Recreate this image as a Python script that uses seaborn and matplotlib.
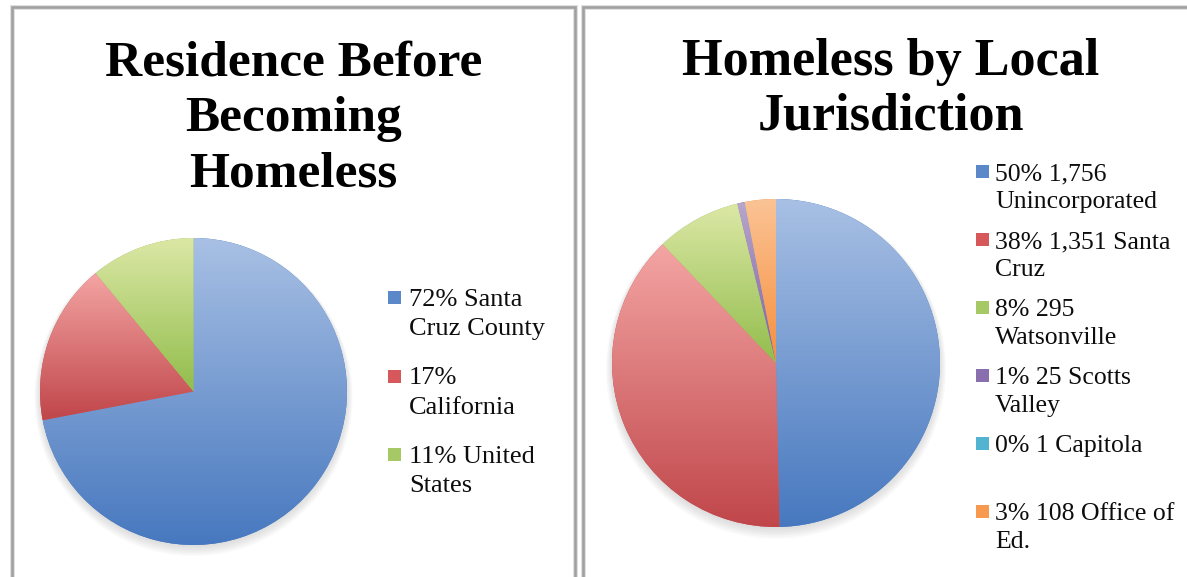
import numpy as np
import matplotlib
matplotlib.use("Agg")
import matplotlib.pyplot as plt
from matplotlib.patches import Rectangle, Circle
import seaborn as sns

# ---- data ----------------------------------------------------------------
residence_title = ["Residence Before", "Becoming", "Homeless"]
residence_labels = ["72% Santa\nCruz County", "17%\nCalifornia", "11% United\nStates"]
residence_share = [72, 17, 11]

jurisdiction_title = ["Homeless by Local", "Jurisdiction"]
jurisdiction_labels = ["50% 1,756\nUnincorporated", "38% 1,351 Santa\nCruz",
                       "8% 295\nWatsonville", "1% 25 Scotts\nValley",
                       "0% 1 Capitola\n ", "3% 108 Office of\nEd."]
jurisdiction_counts = [1756, 1351, 295, 25, 1, 108]

# ---- styling -------------------------------------------------------------
top_tint = ["#a8c0e4", "#f4a5a4", "#dce8a6", "#b8a6cc", "#9fd6e6", "#fbc395"]
base_tone = ["#4778bf", "#c0464a", "#92bd4c", "#7d5fa3", "#45a8c4", "#f68f3d"]
swatch = ["#5a88c8", "#d6585a", "#a6c865", "#8a6fae", "#52b4d0", "#f79a50"]

sns.set_theme(style="white")
plt.rcParams["font.family"] = ["Liberation Serif", "DejaVu Serif"]

W, H = 1187, 577
fig = plt.figure(figsize=(W / 100, H / 100), dpi=100)
fig.patch.set_facecolor("white")


def fx(px):
    return px / W


def fy(py):
    return 1 - py / H


def panel_frame(x0, x1, y_top):
    for lw, col in [(5.0, "#e0e0e0"), (2.6, "#a0a0a0")]:
        fig.add_artist(Rectangle((fx(x0), fy(H + 20)), fx(x1) - fx(x0),
                                 fy(y_top) - fy(H + 20), transform=fig.transFigure,
                                 fill=False, lw=lw * 0.72, ec=col))


def gradient_pie(cx, cy, r, values):
    pad = 1.1
    ax = fig.add_axes([fx(cx - r * pad), fy(cy + r * pad),
                       2 * r * pad / W, 2 * r * pad / H])
    # soft drop shadow under the disc
    for k in range(7):
        ax.add_patch(Circle((0, -0.012 - 0.004 * k), 1.0 + 0.006 * k,
                            color="#7a7a7a", alpha=0.035, lw=0, zorder=0))
    wedges, _ = ax.pie(values, startangle=90, counterclock=False, radius=1,
                       colors=base_tone[:len(values)],
                       wedgeprops=dict(linewidth=0, zorder=1))
    for i, w in enumerate(wedges):
        ext = w.get_path().get_extents()
        ramp = np.array(sns.blend_palette([base_tone[i], top_tint[i]], 256))
        img = ax.imshow(ramp[:, None, :3], origin="lower", aspect="auto",
                        extent=[ext.x0, ext.x1, ext.y0, ext.y1],
                        interpolation="bilinear", zorder=2)
        img.set_clip_path(w)
    ax.set_xlim(-pad, pad)
    ax.set_ylim(-pad, pad)
    ax.set_aspect("equal")
    ax.axis("off")
    return ax


def legend_block(x_sq, x_txt, y_first, item_step, line_step, labels, size):
    for i, lab in enumerate(labels):
        yb = y_first + i * item_step
        fig.add_artist(Rectangle((fx(x_sq), fy(yb - 2)), 13 / W, 13 / H,
                                 transform=fig.transFigure, color=swatch[i], lw=0))
        for j, line in enumerate(lab.split("\n")):
            fig.text(fx(x_txt), fy(yb + j * line_step), line, ha="left",
                     va="baseline", fontsize=size, color="#0d0d0d")


def title_block(xc, y_first, step, lines, size):
    for j, line in enumerate(lines):
        fig.text(fx(xc), fy(y_first + j * step), line, ha="center", va="baseline",
                 fontsize=size, fontweight="bold", color="black")


# ---- left panel ----------------------------------------------------------
panel_frame(12, 575, 7)
title_block(293.5, 75, 56, residence_title, 37)
gradient_pie(193.5, 391.5, 153.5, residence_share)
legend_block(388, 409, 306, 78.5, 29, residence_labels, 19)

# ---- right panel ---------------------------------------------------------
panel_frame(583, 1200, 7)
title_block(891, 75, 55, jurisdiction_title, 37.5)
gradient_pie(776, 363, 164, jurisdiction_counts)
legend_block(976, 995, 180, 68, 28, jurisdiction_labels, 18.5)

fig.savefig("out.png", dpi=100, facecolor="white")
